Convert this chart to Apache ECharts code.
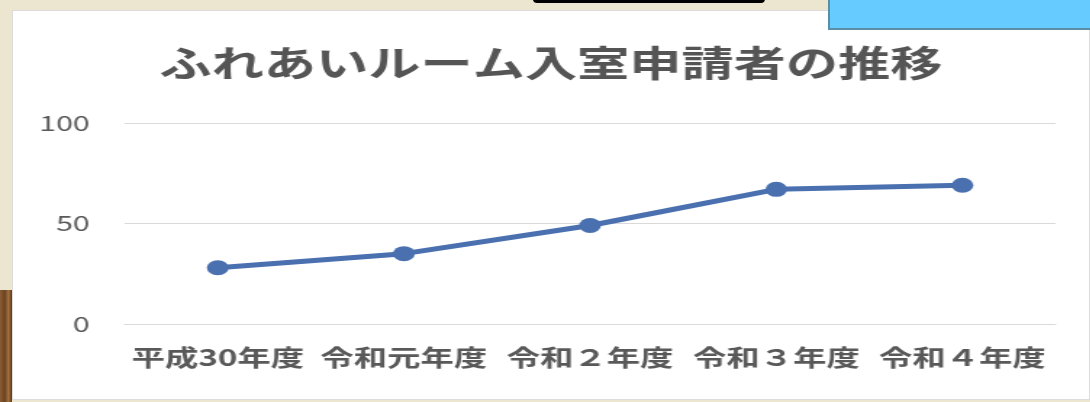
<!DOCTYPE html>
<html><head><meta charset="utf-8">
<script src="https://cdn.jsdelivr.net/npm/echarts@6/dist/echarts.min.js"></script>
<style>
html,body{margin:0;padding:0;width:1090px;height:402px;overflow:hidden;background:#ece6d0;position:relative;}
#wood{position:absolute;left:0;top:290px;width:12px;height:112px;background:linear-gradient(90deg,#8a5c33,#6b4423 40%,#a0703f 70%,#5e3a1c);}
#blackbar{position:absolute;left:533px;top:-6px;width:232px;height:9px;background:#000;border-radius:4px;}
#panel{position:absolute;left:12px;top:10px;width:1078px;height:390px;background:#fff;border:1px solid #dcdcdc;box-sizing:border-box;}
#chart{position:absolute;left:0;top:0;width:742px;height:388px;transform:scaleX(1.45);transform-origin:0 0;}
#bluebox{position:absolute;left:828px;top:-2px;width:264px;height:32px;background:#66ccff;border:2px solid #5a8ea6;box-sizing:border-box;}
</style></head>
<body>
<div id="wood"></div>
<div id="blackbar"></div>
<div id="panel"><div id="chart"></div></div>
<div id="bluebox"></div>
<script>
const titleText = 'ふれあいルーム入室申請者の推移';
const categories = ['平成30年度', '令和元年度', '令和２年度', '令和３年度', '令和４年度'];
const applicants = [28, 35, 49, 67, 69];
const yTicks = [0, 50, 100];

const chart = echarts.init(document.getElementById('chart'), null, {renderer: 'canvas'});
const font = '"Noto Sans CJK JP", "Noto Sans", sans-serif';
chart.setOption({
  animation: false,
  title: {
    text: titleText,
    left: 'center',
    top: 29,
    textStyle: {fontFamily: font, fontSize: 36, fontWeight: 'bold', color: '#555555'}
  },
  grid: {left: 77, right: 23, top: 112, bottom: 75},
  xAxis: {
    type: 'category',
    data: categories,
    boundaryGap: true,
    axisLine: {show: true, lineStyle: {color: '#d9d9d9', width: 1}},
    axisTick: {show: false},
    axisLabel: {interval: 0, margin: 22, fontFamily: font, fontSize: 23, fontWeight: 'bold', color: '#595959'}
  },
  yAxis: {
    type: 'value',
    min: yTicks[0],
    max: yTicks[yTicks.length - 1],
    interval: yTicks[1] - yTicks[0],
    axisLine: {show: false},
    axisTick: {show: false},
    splitLine: {lineStyle: {color: '#d9d9d9', width: 1}},
    axisLabel: {margin: 24, fontFamily: font, fontSize: 21, color: '#595959'}
  },
  series: [{
    type: 'line',
    data: applicants,
    symbol: 'circle',
    symbolSize: 15,
    lineStyle: {color: '#4a70b0', width: 5},
    itemStyle: {color: '#4a70b0'}
  }]
});
</script>
</body></html>
